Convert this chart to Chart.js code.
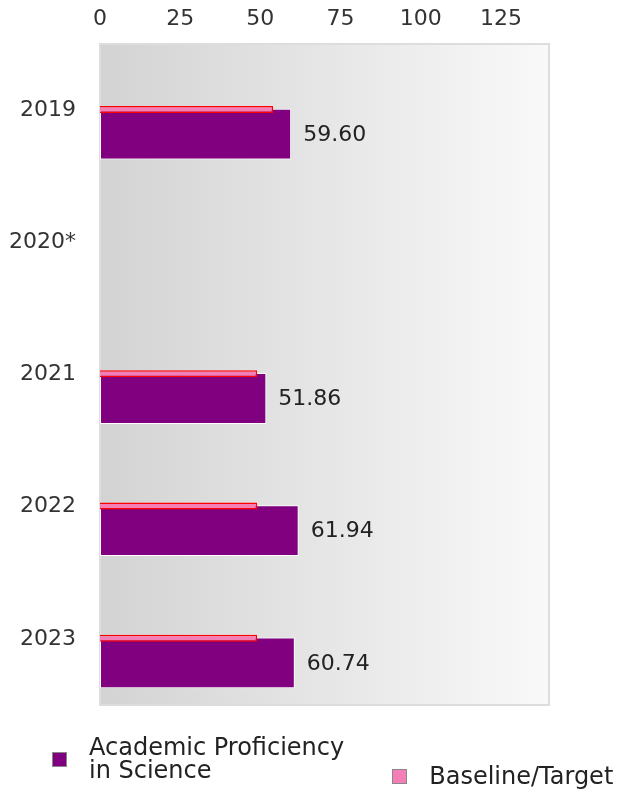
<!DOCTYPE html>
<html>
<head>
<meta charset="utf-8">
<script src="https://cdn.jsdelivr.net/npm/chart.js@4.4.1/dist/chart.umd.min.js"></script>
<style>
  html, body { margin: 0; padding: 0; background: #fff; }
  #wrap { position: relative; width: 622px; height: 792px; }
  #legend {
    position: absolute; left: 0; top: 736px; width: 622px;
    display: flex; align-items: flex-end; padding-left: 52px; box-sizing: border-box;
    font-family: "DejaVu Sans"; font-size: 24px; line-height: 23px; color: #222;
  }
  .item { display: flex; align-items: center; margin-right: 48px; white-space: nowrap; flex: none; }
  .item:last-child { position: relative; top: 6px; }
  .box { width: 13px; height: 13px; border: 1px solid #888; margin-right: 22px; flex: none; }
</style>
</head>
<body>
<div id="wrap">
  <canvas id="c"></canvas>
  <div id="legend"></div>
</div>
<script>
const years = ['2019', '2020*', '2021', '2022', '2023'];
const proficiency = [59.60, null, 51.86, 61.94, 60.74];
const baseline = [54, null, 49, 49, 49];
const xTicks = [0, 25, 50, 75, 100, 125];

const proficiencyLabel = ['Academic Proficiency', 'in Science'];
const baselineLabel = 'Baseline/Target';

const plotBackground = {
    id: 'plotBackground',
    beforeDraw(chart) {
        const { ctx, chartArea: a } = chart;
        const g = ctx.createLinearGradient(a.left, 0, a.right, 0);
        g.addColorStop(0, '#d3d3d3');
        g.addColorStop(1, '#f9f9f9');
        ctx.save();
        ctx.fillStyle = g;
        ctx.fillRect(a.left, a.top, a.width, a.height);
        ctx.strokeStyle = '#dddddd';
        ctx.lineWidth = 2;
        ctx.strokeRect(a.left, a.top, a.width, a.height);
        ctx.restore();
    }
};

const valueLabels = {
    id: 'valueLabels',
    afterDatasetsDraw(chart) {
        const ctx = chart.ctx;
        const meta = chart.getDatasetMeta(0);
        const data = chart.data.datasets[0].data;
        ctx.save();
        ctx.font = '22px "DejaVu Sans"';
        ctx.fillStyle = '#222';
        ctx.textBaseline = 'middle';
        meta.data.forEach((bar, i) => {
            if (data[i] === null) return;
            ctx.fillText(data[i].toFixed(2), bar.x + 12, bar.y + 1);
        });
        ctx.restore();
    }
};

// grouped bars: baseline (order 0) gets a tiny upper slot so it stays on the
// category line, proficiency (order 1) hangs just below it
const chart = new Chart(document.getElementById('c'), {
    type: 'bar',
    data: {
        labels: years,
        datasets: [
            {
                label: proficiencyLabel,
                data: proficiency,
                backgroundColor: '#800080',
                borderColor: '#ffffff',
                borderWidth: 1,
                borderSkipped: false,
                categoryPercentage: 0.726,
                barPercentage: 1.058,
                order: 1
            },
            {
                label: baselineLabel,
                data: baseline,
                backgroundColor: '#f37fb6',
                borderColor: '#ff0000',
                borderWidth: 1.5,
                categoryPercentage: 0.02,
                barPercentage: 5.3,
                order: 0
            }
        ]
    },
    options: {
        indexAxis: 'y',
        responsive: true,
        maintainAspectRatio: false,
        animation: false,
        layout: { padding: { top: -5, left: 8, right: 73, bottom: 87 } },
        plugins: {
            legend: { display: false },
            tooltip: { enabled: false }
        },
        scales: {
            x: {
                position: 'top',
                min: 0,
                max: 140,
                afterBuildTicks: s => { s.ticks = xTicks.map(v => ({ value: v })); },
                grid: { display: false, drawTicks: false },
                border: { display: false },
                ticks: { color: '#333', padding: 8, font: { family: 'DejaVu Sans', size: 22, lineHeight: 1.5 } }
            },
            y: {
                afterFit: s => { s.width = 92; },
                grid: { display: false, drawTicks: false },
                border: { display: false },
                ticks: { color: '#333', padding: 24, font: { family: 'DejaVu Sans', size: 22 } }
            }
        }
    },
    plugins: [plotBackground, valueLabels]
});

// html legend, built from the datasets
const legendFill = ['#800080', '#f37fb6'];
const legendEl = document.getElementById('legend');
chart.data.datasets.forEach((ds, i) => {
    const item = document.createElement('div');
    item.className = 'item';
    const box = document.createElement('span');
    box.className = 'box';
    box.style.background = legendFill[i];
    const text = document.createElement('span');
    text.innerHTML = [].concat(ds.label).join('<br>');
    item.appendChild(box);
    item.appendChild(text);
    legendEl.appendChild(item);
});
</script>
</body>
</html>
